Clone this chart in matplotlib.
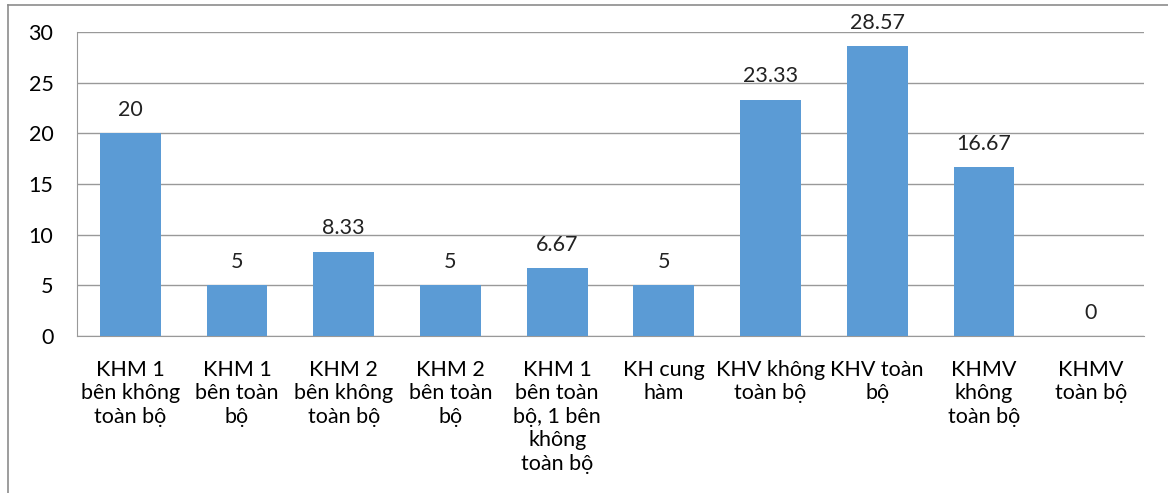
import matplotlib.pyplot as plt
from matplotlib.lines import Line2D

categories = [
    "KHM 1\nbên không\ntoàn bộ",
    "KHM 1\nbên toàn\nbộ",
    "KHM 2\nbên không\ntoàn bộ",
    "KHM 2\nbên toàn\nbộ",
    "KHM 1\nbên toàn\nbộ, 1 bên\nkhông\ntoàn bộ",
    "KH cung\nhàm",
    "KHV không\ntoàn bộ",
    "KHV toàn\nbộ",
    "KHMV\nkhông\ntoàn bộ",
    "KHMV\ntoàn bộ",
]
values = [20, 5, 8.33, 5, 6.67, 5, 23.33, 28.57, 16.67, 0]
labels = ["20", "5", "8.33", "5", "6.67", "5", "23.33", "28.57", "16.67", "0"]

plt.rcParams['font.family'] = ['Lato', 'DejaVu Sans']

fig = plt.figure(figsize=(11.68, 4.93), dpi=100)
ax = fig.add_axes([77 / 1168, 1 - 336 / 493, (1144 - 77) / 1168, (336 - 32) / 493])

x = range(len(values))
bars = ax.bar(x, values, width=0.57, color="#5b9bd5", zorder=3)
for xi, v, lab in zip(x, values, labels):
    ax.text(xi, v + 1.3, lab, ha="center", va="bottom", fontsize=15.5, color="#222222", zorder=4)

ax.set_ylim(0, 30)
ax.set_xlim(-0.5, len(values) - 0.5)
ax.set_yticks(range(0, 31, 5))
ax.yaxis.grid(True, color="#999999", linewidth=1.0, zorder=0)
ax.set_xticks(list(x))
ax.set_xticklabels(categories, fontsize=15.5, linespacing=1.22)
ax.tick_params(axis="y", labelsize=15.5, length=0, pad=17)
ax.tick_params(axis="x", length=0, pad=17)
for s in ["top", "right"]:
    ax.spines[s].set_visible(False)
ax.spines["left"].set_color("#999999")
ax.spines["bottom"].set_color("#999999")

# outer chart border
fig.add_artist(Line2D([8 / 1168, 8 / 1168], [0, 1 - 5 / 493], color="#8c8c8c", lw=1.2))
fig.add_artist(Line2D([8 / 1168, 1], [1 - 5 / 493, 1 - 5 / 493], color="#8c8c8c", lw=1.2))

fig.savefig("out.png", dpi=100)
